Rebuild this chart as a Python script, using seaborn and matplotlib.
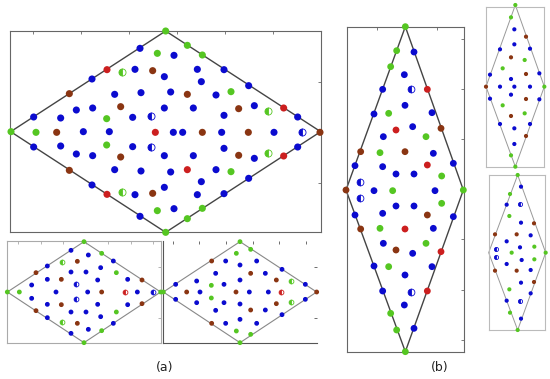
import matplotlib
matplotlib.use("Agg")
import matplotlib.pyplot as plt
import numpy as np
import pandas as pd
import seaborn as sns

# positions, in each panel's own pixel units (y grows downwards)
colors = {'b': '#0b0bcf', 'g': '#55c622', 'r': '#cc1f1f', 'm': '#8a3512'}

# (a) main lattice
main_outline = [(32, 395), (497, 93), (962, 395), (497, 697)]
main_blue = [(101, 351), (276, 237), (420, 145), (101, 441), (276, 555), (420, 649), (672, 209), (746, 257),
             (893, 351), (672, 581), (746, 535), (893, 441), (522, 166), (405, 208), (592, 208), (493, 230),
             (604, 245), (344, 283), (423, 278), (512, 276), (648, 285), (229, 330), (278, 324), (493, 324),
             (580, 324), (763, 317), (182, 354), (398, 352), (672, 346), (250, 395), (328, 395), (520, 397),
             (548, 397), (665, 397), (822, 397), (182, 438), (398, 440), (672, 445), (229, 462), (278, 467),
             (493, 467), (580, 467), (763, 475), (344, 509), (423, 513), (512, 516), (648, 509), (493, 562),
             (604, 545), (405, 584), (592, 584), (522, 626)]
main_green = [(33, 395), (497, 93), (497, 697), (562, 136), (607, 165), (562, 656), (607, 625), (472, 160),
              (693, 275), (320, 356), (108, 397), (320, 435), (693, 515), (472, 632)]
main_red = [(321, 209), (851, 324), (466, 397), (562, 509), (321, 583), (851, 468)]
main_brown = [(960, 397), (208, 281), (208, 511), (458, 212), (562, 283), (362, 320), (716, 326), (170, 397),
              (607, 397), (745, 397), (362, 471), (716, 466), (458, 580)]
main_half = [(366, 216, 'g'), (804, 332, 'g'), (804, 459, 'g'), (366, 576, 'g'),
             (907, 397, 'b'), (453, 348, 'b'), (453, 442, 'b')]

# (a) bottom left
bl_outline = [(22, 168), (252, 17), (482, 168), (252, 320)]
bl_blue = [(142, 90), (213, 43), (340, 75), (142, 245), (213, 292), (340, 262), (265, 57), (213, 108),
           (258, 108), (302, 95), (142, 130), (293, 132), (383, 130), (95, 147), (168, 168), (263, 168),
           (412, 168), (95, 187), (142, 205), (293, 205), (383, 206), (213, 228), (258, 228), (302, 242),
           (265, 280)]
bl_green = [(22, 168), (252, 17), (252, 320), (482, 168), (305, 52), (305, 284), (349, 110), (58, 168),
            (349, 228)]
bl_brown = [(108, 110), (108, 224), (426, 132), (426, 203), (232, 76), (184, 130), (305, 168), (184, 206),
            (232, 262)]
bl_half = [(186, 78, 'g'), (186, 258, 'g'), (228, 145, 'b'), (228, 188, 'b'), (458, 168, 'b'), (376, 168, 'r')]

# (a) bottom middle
bm_outline = [(10, 168), (240, 17), (470, 168), (240, 320)]
bm_blue = [(47, 145), (366, 100), (436, 145), (47, 190), (366, 236), (436, 190), (197, 75), (240, 87),
           (290, 75), (167, 112), (316, 112), (110, 135), (192, 145), (240, 132), (120, 168), (268, 168),
           (325, 168), (110, 200), (192, 200), (240, 204), (167, 223), (316, 222), (197, 262), (240, 250),
           (290, 262)]
bm_green = [(10, 168), (240, 17), (240, 320), (272, 40), (229, 52), (154, 148), (154, 186), (229, 285),
            (272, 295)]
bm_brown = [(470, 168), (155, 75), (272, 112), (349, 132), (80, 168), (228, 168), (349, 203), (272, 222),
            (155, 262)]
bm_half = [(394, 135, 'g'), (394, 198, 'g'), (363, 168, 'r')]

# (b) tall panel
tall_outline = [(196, 80), (370, 570), (196, 1055), (18, 570)]
tall_blue = [(222, 156), (193, 224), (128, 268), (195, 316), (102, 342), (276, 338), (218, 380), (130, 410),
             (280, 460), (45, 497), (128, 500), (340, 490), (168, 522), (222, 522), (102, 572), (285, 572),
             (168, 618), (222, 618), (45, 645), (128, 640), (340, 650), (280, 685), (130, 730), (218, 760),
             (102, 798), (276, 800), (195, 825), (128, 873), (193, 915), (222, 985)]
tall_green = [(196, 80), (170, 152), (152, 200), (146, 340), (258, 410), (120, 458), (305, 528), (158, 572),
              (370, 570), (305, 610), (120, 685), (258, 730), (146, 800), (152, 940), (170, 990), (196, 1055)]
tall_red = [(262, 268), (168, 390), (262, 495), (195, 687), (303, 755), (262, 873)]
tall_brown = [(303, 385), (62, 455), (195, 455), (18, 570), (262, 645), (62, 687), (168, 750)]
tall_half = [(212, 266, 'b'), (60, 546, 'b'), (60, 595, 'b'), (212, 875, 'b')]

# (b) small top right
rt_outline = [(106, 15), (193, 260), (106, 500), (18, 260)]
rt_blue = [(103, 88), (103, 133), (60, 148), (150, 146), (30, 224), (178, 220), (93, 237), (60, 260),
           (103, 260), (150, 260), (30, 296), (178, 298), (93, 284), (60, 372), (150, 372), (103, 385),
           (103, 432)]
rt_green = [(106, 15), (93, 52), (134, 180), (68, 205), (193, 260), (68, 316), (134, 340), (93, 466),
            (106, 500)]
rt_brown = [(138, 110), (93, 172), (138, 222), (18, 260), (138, 297), (93, 348), (138, 408)]

# (b) small bottom right
rb_outline = [(113, 15), (197, 248), (113, 480), (26, 248)]
rb_blue = [(123, 50), (80, 104), (123, 158), (80, 214), (152, 196), (120, 232), (125, 270), (80, 282),
           (152, 300), (123, 338), (152, 370), (80, 392), (123, 446)]
rb_green = [(113, 15), (90, 72), (88, 138), (163, 230), (95, 248), (197, 248), (163, 268), (88, 358),
            (90, 428), (113, 480)]
rb_brown = [(162, 160), (45, 193), (110, 193), (45, 302), (110, 302), (162, 336)]
rb_half = [(120, 103, 'b'), (47, 238, 'b'), (47, 260, 'b'), (120, 392, 'b')]

W, H = 550, 379
sns.set_style("white")
fig = plt.figure(figsize=(W / 100, H / 100), dpi=100)


def panel(offset, box, outline, dots, halves, size, line_color, spine_color, lw=1.0,
          xt=(), yt=(), hide=()):
    ox, oy = offset
    x0, x1, y0, y1 = box
    left, right = ox + x0 / 3, ox + x1 / 3
    top, bottom = oy + y0 / 3, oy + y1 / 3
    ax = fig.add_axes([left / W, 1 - bottom / H, (right - left) / W, (bottom - top) / H])
    xs, ys = zip(*(outline + outline[:1]))
    ax.plot(xs, ys, color=line_color, lw=lw, zorder=1, clip_on=False)
    df = pd.DataFrame([(x, y, k) for k, pts in dots.items() for x, y in pts], columns=['x', 'y', 'kind'])
    sns.scatterplot(data=df, x='x', y='y', hue='kind', palette=colors, s=size, linewidth=0,
                    legend=False, ax=ax, clip_on=False, zorder=3)
    for x, y, k in halves:
        ax.plot(x, y, 'o', ms=np.sqrt(size), fillstyle='left', markerfacecolor=colors[k],
                markerfacecoloralt='white', markeredgecolor=colors[k], mew=0.6, clip_on=False, zorder=3)
    ax.set_xlim(x0, x1)
    ax.set_ylim(y1, y0)
    ax.set_xlabel('')
    ax.set_ylabel('')
    ax.set_xticks(list(xt))
    ax.set_yticks(list(yt))
    ax.set_xticklabels([])
    ax.set_yticklabels([])
    ax.tick_params(direction='in', length=2.5, width=0.6, top=True, right=True, colors=spine_color)
    for name, sp in ax.spines.items():
        sp.set_color(spine_color)
        sp.set_linewidth(0.8)
        if name in hide:
            sp.set_visible(False)
    return ax


panel((0, 0), (30, 963, 93, 697), main_outline,
      {'b': main_blue, 'g': main_green, 'r': main_red, 'm': main_brown}, main_half,
      26, '#444444', '#666666', lw=1.0, xt=[98, 243, 388, 530, 675, 820], yt=[245, 548])
panel((0, 236), (20, 482, 15, 320), bl_outline,
      {'b': bl_blue, 'g': bl_green, 'm': bl_brown}, bl_half,
      12, '#888888', '#aaaaaa', lw=0.8, xt=[55, 122, 190, 258, 325, 392, 460], yt=[92, 245])
panel((160, 236), (10, 470, 15, 320), bm_outline,
      {'b': bm_blue, 'g': bm_green, 'm': bm_brown}, bm_half,
      12, '#888888', '#555555', lw=0.8, xt=[40, 118, 198, 278, 358, 438], yt=[92, 245],
      hide=('top', 'right'))
panel((340, 0), (22, 372, 80, 1057), tall_outline,
      {'b': tall_blue, 'g': tall_green, 'r': tall_red, 'm': tall_brown}, tall_half,
      24, '#444444', '#666666', lw=1.0, xt=[112, 290], yt=[118, 268, 418, 570, 718, 870, 1020])
panel((480, 0), (18, 193, 20, 500), rt_outline,
      {'b': rt_blue, 'g': rt_green, 'm': rt_brown}, [],
      9, '#999999', '#bbbbbb', lw=0.7)
panel((480, 170), (26, 195, 15, 480), rb_outline,
      {'b': rb_blue, 'g': rb_green, 'm': rb_brown}, rb_half,
      9, '#999999', '#bbbbbb', lw=0.7)

fig.text(165 / W, 1 - 367 / H, '(a)', ha='center', va='center', fontsize=9, color='#222222')
fig.text(440 / W, 1 - 367 / H, '(b)', ha='center', va='center', fontsize=9, color='#222222')

fig.savefig('out.png', dpi=100)
